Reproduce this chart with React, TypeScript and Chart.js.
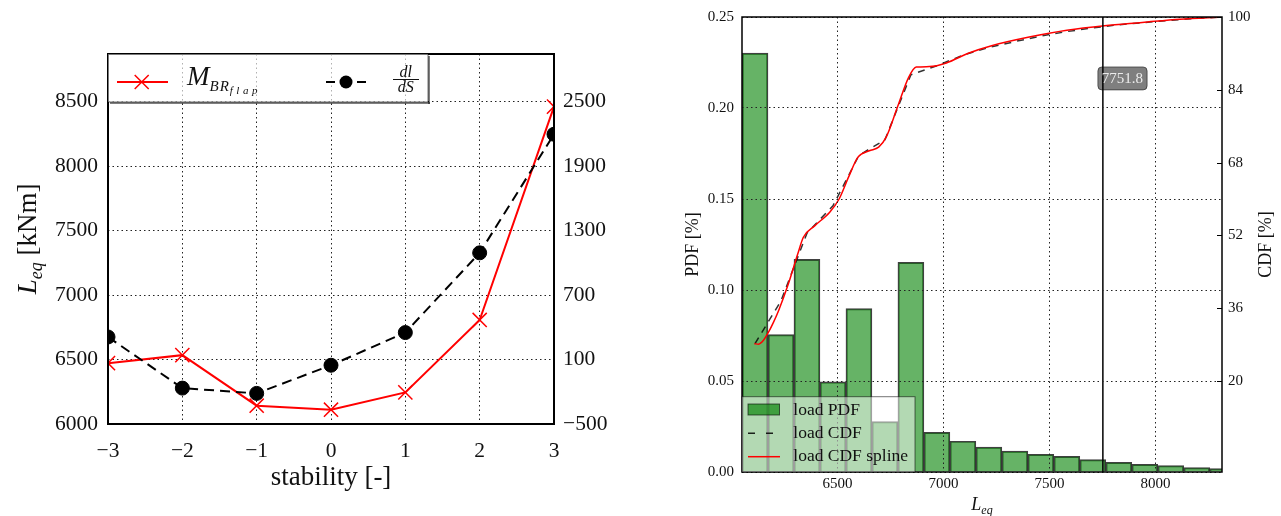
import React, { useEffect, useRef } from 'react';
import { Chart, registerables } from 'chart.js';

Chart.register(...registerables);

// ---------- Left panel data ----------
const STABILITY = [-3, -2, -1, 0, 1, 2, 3];
const M_BR_FLAP = [6472, 6534, 6142, 6111, 6245, 6807, 8462];
const DL_DS = [310, -166, -215, 47, 351, 1093, 2197];
const STAB_TICKS = [-3, -2, -1, 0, 1, 2, 3];
const LEQ_LEFT_TICKS = [6000, 6500, 7000, 7500, 8000, 8500];
const DLDS_TICKS = [-500, 100, 700, 1300, 1900, 2500];

// ---------- Right panel data ----------
const BIN_CENTERS = [6110.9, 6233.4, 6356.0, 6478.6, 6601.2, 6723.7, 6846.3, 6968.9, 7091.4, 7214.0,
  7336.6, 7459.1, 7581.7, 7704.3, 7826.9, 7949.4, 8072.0, 8194.6, 8317.1];
const PDF_VALUES = [0.2302, 0.0755, 0.1168, 0.0495, 0.0898, 0.0277, 0.1152, 0.0218, 0.0169, 0.0137,
  0.0115, 0.0097, 0.0086, 0.0068, 0.0053, 0.0042, 0.0035, 0.0024, 0.0019];
const CDF_VALUES = [28.2, 37.6, 52.5, 58.5, 69.6, 73.0, 87.3, 89.3, 91.6, 93.3,
  94.6, 95.8, 96.8, 97.6, 98.3, 98.8, 99.3, 99.7, 100];
const SPLINE_X = [6107.7, 6128, 6151.8, 6175.3, 6199, 6222.5, 6268, 6312.4, 6339, 6392.3, 6463.3, 6507.7,
  6552.1, 6596.5, 6649.9, 6694.2, 6729.7, 6782.9, 6836.2, 6871.7, 6933.8, 7013.7, 7120.3, 7226.8,
  7404.4, 7582, 7759.5, 7937.1, 8114.7, 8313.5];
const SPLINE_Y = [28.2, 28.1, 29.0, 30.8, 33.0, 35.5, 41.3, 47.9, 51.6, 54.1, 57.1, 60.0,
  64.8, 69.2, 70.6, 71.4, 73.6, 80.2, 86.8, 89.0, 89.1, 89.9, 92.1, 93.7,
  95.6, 97.1, 98.1, 98.8, 99.5, 100];
const MARKER_VALUE = 7751.8;
const MARKER_LABEL_Y = 86.5;
const LEQ_TICKS = [6500, 7000, 7500, 8000];
const PDF_TICKS = [0, 0.05, 0.1, 0.15, 0.2, 0.25];
const CDF_TICKS = [20, 36, 52, 68, 84, 100];

const SERIF = '"Liberation Serif", "Times New Roman", serif';
const GRID_COLOR = '#222';
const GRID_DASH = [1.5, 3];

type Part = { t: string; size: number; italic?: boolean; dy?: number; ls?: number };

function fontStr(p: Part) {
  return `${p.italic ? 'italic ' : ''}${p.size}px ${SERIF}`;
}
function measureParts(ctx: any, parts: Part[]) {
  let w = 0;
  for (const p of parts) {
    ctx.font = fontStr(p);
    ctx.letterSpacing = `${p.ls || 0}px`;
    w += ctx.measureText(p.t).width;
  }
  ctx.letterSpacing = '0px';
  return w;
}
function drawParts(ctx: any, parts: Part[], x: number, y: number, align: 'left' | 'center') {
  const w = measureParts(ctx, parts);
  let cx = align === 'center' ? x - w / 2 : x;
  ctx.textAlign = 'left';
  ctx.textBaseline = 'alphabetic';
  for (const p of parts) {
    ctx.font = fontStr(p);
    ctx.letterSpacing = `${p.ls || 0}px`;
    ctx.fillText(p.t, cx, y + (p.dy || 0));
    cx += ctx.measureText(p.t).width;
  }
  ctx.letterSpacing = '0px';
}
function drawRotated(ctx: any, parts: Part[], x: number, y: number) {
  ctx.save();
  ctx.translate(x, y);
  ctx.rotate(-Math.PI / 2);
  drawParts(ctx, parts, 0, 0, 'center');
  ctx.restore();
}

const fmtMinus = (v: number) => (v < 0 ? '\u2212' + Math.abs(v) : String(v));
const setTicks = (vals: number[]) => (s: any) => {
  s.ticks = vals.map((v) => ({ value: v }));
};

const leftDecor = {
  id: 'leftDecor',
  afterDatasetsDraw(chart: any) {
    const { ctx, chartArea: a } = chart;
    ctx.save();
    ctx.strokeStyle = '#000';
    ctx.lineWidth = 2;
    ctx.strokeRect(a.left, a.top, a.right - a.left, a.bottom - a.top);
    ctx.restore();
  },
  afterDraw(chart: any) {
    const { ctx, chartArea: a } = chart;
    ctx.save();
    // legend box
    const lx = a.left, ly = a.top, lw = 428 - a.left, lh = 102 - a.top;
    ctx.fillStyle = 'rgba(255,255,255,0.65)';
    ctx.fillRect(lx, ly, lw, lh);
    ctx.fillStyle = 'rgba(0,0,0,0.5)';
    ctx.fillRect(lx + 2, ly + lh, lw, 2);
    ctx.fillRect(lx + lw, ly + 2, 2, lh);
    ctx.strokeStyle = 'rgba(0,0,0,0.45)';
    ctx.lineWidth = 1.2;
    ctx.strokeRect(lx, ly, lw, lh);
    // red handle
    ctx.strokeStyle = '#ff0000';
    ctx.lineWidth = 2;
    ctx.beginPath();
    ctx.moveTo(117, 82);
    ctx.lineTo(168, 82);
    ctx.stroke();
    ctx.lineWidth = 1.5;
    ctx.beginPath();
    ctx.moveTo(141.7 - 7, 82 - 7);
    ctx.lineTo(141.7 + 7, 82 + 7);
    ctx.moveTo(141.7 - 7, 82 + 7);
    ctx.lineTo(141.7 + 7, 82 - 7);
    ctx.stroke();
    ctx.fillStyle = '#111';
    drawParts(ctx, [
      { t: 'M', size: 27, italic: true },
      { t: 'BR', size: 15, italic: true, dy: 6, ls: 1 },
      { t: 'flap', size: 11, italic: true, dy: 9, ls: 3.5 },
    ], 187, 85, 'left');
    // black handle (dash - marker - dash)
    ctx.strokeStyle = '#000';
    ctx.lineWidth = 2.2;
    ctx.beginPath();
    ctx.moveTo(326, 82);
    ctx.lineTo(335, 82);
    ctx.moveTo(357, 82);
    ctx.lineTo(366, 82);
    ctx.stroke();
    ctx.fillStyle = '#000';
    ctx.beginPath();
    ctx.arc(346, 82, 6.5, 0, Math.PI * 2);
    ctx.fill();
    ctx.fillStyle = '#111';
    drawParts(ctx, [{ t: 'dl', size: 16, italic: true }], 405.8, 76.5, 'center');
    drawParts(ctx, [{ t: 'dS', size: 16, italic: true }], 405.8, 92, 'center');
    ctx.strokeStyle = '#111';
    ctx.lineWidth = 1;
    ctx.beginPath();
    ctx.moveTo(393, 79.5);
    ctx.lineTo(419, 79.5);
    ctx.stroke();
    // axis titles
    ctx.fillStyle = '#111';
    drawRotated(ctx, [
      { t: 'L', size: 27, italic: true },
      { t: 'eq', size: 18, italic: true, dy: 6 },
      { t: ' [kNm]', size: 27 },
    ], 36, (a.top + a.bottom) / 2);
    drawParts(ctx, [{ t: 'stability [-]', size: 27 }], (a.left + a.right) / 2, 485, 'center');
    ctx.restore();
  },
};

const rightDecor = {
  id: 'rightDecor',
  afterDraw(chart: any) {
    const { ctx, chartArea: a, scales } = chart;
    ctx.save();
    // frame
    ctx.strokeStyle = '#000';
    ctx.lineWidth = 1.5;
    ctx.strokeRect(a.left, a.top, a.right - a.left, a.bottom - a.top);
    // right axis inward ticks
    ctx.lineWidth = 1;
    for (const v of CDF_TICKS) {
      const y = Math.round(scales.y1.getPixelForValue(v)) + 0.5;
      ctx.beginPath();
      ctx.moveTo(a.right - 5, y);
      ctx.lineTo(a.right, y);
      ctx.stroke();
    }
    // marker annotation
    const xp = scales.x.getPixelForValue(MARKER_VALUE);
    const yc = scales.y1.getPixelForValue(MARKER_LABEL_Y);
    ctx.font = `15px ${SERIF}`;
    const tw = ctx.measureText('7751.8').width;
    const bw = tw + 8, bh = 23;
    const bx = xp - 5, by = yc - bh / 2;
    ctx.beginPath();
    (ctx as any).roundRect(bx, by, bw, bh, 4);
    ctx.fillStyle = 'rgba(0,0,0,0.5)';
    ctx.fill();
    ctx.strokeStyle = 'rgba(0,0,0,0.5)';
    ctx.lineWidth = 1;
    ctx.stroke();
    ctx.fillStyle = 'rgba(255,255,255,0.85)';
    ctx.textAlign = 'center';
    ctx.textBaseline = 'middle';
    ctx.fillText('7751.8', bx + bw / 2, yc + 1);
    // legend
    const lx = a.left, ly = 396.7, lr = 265;
    ctx.fillStyle = 'rgba(255,255,255,0.5)';
    ctx.fillRect(lx, ly, lr - lx, a.bottom - ly);
    ctx.strokeStyle = 'rgba(0,0,0,0.55)';
    ctx.lineWidth = 1;
    ctx.strokeRect(lx, ly, lr - lx, a.bottom - ly);
    ctx.fillStyle = 'rgba(0,128,0,0.65)';
    ctx.fillRect(98, 404, 31.5, 11);
    ctx.strokeStyle = 'rgba(0,0,0,0.6)';
    ctx.strokeRect(98, 404, 31.5, 11);
    ctx.strokeStyle = 'rgba(0,0,0,0.85)';
    ctx.lineWidth = 1.5;
    ctx.setLineDash([7, 11]);
    ctx.beginPath();
    ctx.moveTo(98, 433.3);
    ctx.lineTo(130, 433.3);
    ctx.stroke();
    ctx.setLineDash([]);
    ctx.strokeStyle = '#ff0000';
    ctx.beginPath();
    ctx.moveTo(98, 456.7);
    ctx.lineTo(130, 456.7);
    ctx.stroke();
    ctx.fillStyle = '#111';
    ctx.font = `17.5px ${SERIF}`;
    ctx.textAlign = 'left';
    ctx.textBaseline = 'middle';
    ctx.fillText('load PDF', 143.3, 410);
    ctx.fillText('load CDF', 143.3, 433.3);
    ctx.fillText('load CDF spline', 143.3, 456.7);
    // axis titles
    drawRotated(ctx, [{ t: 'PDF [%]', size: 18 }], 48, (a.top + a.bottom) / 2);
    drawRotated(ctx, [{ t: 'CDF [%]', size: 18 }], 621, (a.top + a.bottom) / 2);
    drawParts(ctx, [
      { t: 'L', size: 18, italic: true },
      { t: 'eq', size: 12, italic: true, dy: 4 },
    ], (a.left + a.right) / 2, 510, 'center');
    ctx.restore();
  },
};

function leftConfig(): any {
  const font = { family: SERIF, size: 21.5 };
  return {
    type: 'line',
    data: {
      datasets: [
        {
          label: 'dl/dS',
          data: STABILITY.map((x, i) => ({ x, y: DL_DS[i] })),
          yAxisID: 'y2',
          borderColor: '#000',
          borderWidth: 2,
          borderDash: [10, 6],
          pointStyle: 'circle',
          pointRadius: 7,
          pointBackgroundColor: '#000',
          pointBorderColor: '#000',
          pointBorderWidth: 1,
          tension: 0,
          order: 0,
        },
        {
          label: 'M_BR_flap',
          data: STABILITY.map((x, i) => ({ x, y: M_BR_FLAP[i] })),
          yAxisID: 'y',
          borderColor: '#ff0000',
          borderWidth: 2,
          pointStyle: 'crossRot',
          pointRadius: 10,
          pointBorderColor: '#ff0000',
          pointBorderWidth: 1.5,
          tension: 0,
          order: 1,
        },
      ],
    },
    options: {
      responsive: false,
      animation: false,
      devicePixelRatio: 1,
      layout: { padding: { top: 54, left: 0, right: 0, bottom: 0 } },
      plugins: { legend: { display: false }, tooltip: { enabled: false }, title: { display: false } },
      scales: {
        x: {
          type: 'linear', min: -3, max: 3,
          afterBuildTicks: setTicks(STAB_TICKS),
          afterFit: (s: any) => { s.height = 92; },
          grid: { color: GRID_COLOR, lineWidth: 1, drawTicks: false },
          border: { display: false, dash: GRID_DASH },
          ticks: { font, color: '#111', padding: 14, autoSkip: false, maxRotation: 0, callback: (v: number) => fmtMinus(v) },
        },
        y: {
          type: 'linear', position: 'left', min: 6000, max: 8870,
          afterBuildTicks: setTicks(LEQ_LEFT_TICKS),
          afterFit: (s: any) => { s.width = 108; },
          grid: { color: GRID_COLOR, lineWidth: 1, drawTicks: false },
          border: { display: false, dash: GRID_DASH },
          ticks: { font, color: '#111', padding: 10, autoSkip: false, callback: (v: number) => String(v) },
        },
        y2: {
          type: 'linear', position: 'right', min: -500, max: 2944,
          afterBuildTicks: setTicks(DLDS_TICKS),
          afterFit: (s: any) => { s.width = 91; },
          grid: { drawOnChartArea: false, drawTicks: false },
          border: { display: false },
          ticks: { font, color: '#111', padding: 9, autoSkip: false, callback: (v: number) => fmtMinus(v) },
        },
      },
    },
    plugins: [leftDecor],
  };
}

function rightConfig(): any {
  const font = { family: SERIF, size: 15 };
  return {
    type: 'line',
    data: {
      datasets: [
        {
          type: 'bar',
          label: 'load PDF',
          data: BIN_CENTERS.map((x, i) => ({ x, y: PDF_VALUES[i] })),
          yAxisID: 'y',
          backgroundColor: 'rgba(0,128,0,0.6)',
          borderColor: 'rgba(0,0,0,0.75)',
          borderWidth: 1.3,
          barPercentage: 1,
          categoryPercentage: 1,
          order: 3,
        },
        {
          label: 'load CDF',
          data: BIN_CENTERS.map((x, i) => ({ x, y: CDF_VALUES[i] })),
          yAxisID: 'y1',
          borderColor: 'rgba(0,0,0,0.8)',
          borderWidth: 1.5,
          borderDash: [7, 6],
          pointRadius: 0,
          tension: 0,
          order: 2,
        },
        {
          label: 'load CDF spline',
          data: SPLINE_X.map((x, i) => ({ x, y: SPLINE_Y[i] })),
          yAxisID: 'y1',
          borderColor: '#ff0000',
          borderWidth: 1.5,
          pointRadius: 0,
          cubicInterpolationMode: 'monotone',
          order: 1,
        },
        {
          label: 'marker',
          data: [{ x: MARKER_VALUE, y: 0 }, { x: MARKER_VALUE, y: 0.25 }],
          yAxisID: 'y',
          borderColor: '#000',
          borderWidth: 1.5,
          pointRadius: 0,
          order: 0,
        },
      ],
    },
    options: {
      responsive: false,
      animation: false,
      devicePixelRatio: 1,
      layout: { padding: { top: 17, left: 0, right: 0, bottom: 0 } },
      plugins: { legend: { display: false }, tooltip: { enabled: false }, title: { display: false } },
      scales: {
        x: {
          type: 'linear', min: 6049.6, max: 8313.7, offset: false,
          afterBuildTicks: setTicks(LEQ_TICKS),
          afterFit: (s: any) => { s.height = 44; },
          grid: { color: GRID_COLOR, lineWidth: 1, drawTicks: false, offset: false, z: 1 },
          border: { display: false, dash: GRID_DASH },
          ticks: { font, color: '#111', padding: 3, autoSkip: false, maxRotation: 0, callback: (v: number) => String(v) },
        },
        y: {
          type: 'linear', position: 'left', min: 0, max: 0.25,
          afterBuildTicks: setTicks(PDF_TICKS),
          afterFit: (s: any) => { s.width = 92; },
          grid: { color: GRID_COLOR, lineWidth: 1, drawTicks: false, z: 1 },
          border: { display: false, dash: GRID_DASH },
          ticks: { font, color: '#111', padding: 8, autoSkip: false, callback: (v: number) => v.toFixed(2) },
        },
        y1: {
          type: 'linear', position: 'right', min: 0, max: 100,
          afterBuildTicks: setTicks(CDF_TICKS),
          afterFit: (s: any) => { s.width = 59; },
          grid: { drawOnChartArea: false, drawTicks: false },
          border: { display: false },
          ticks: { font, color: '#111', padding: 6, autoSkip: false, callback: (v: number) => String(v) },
        },
      },
    },
    plugins: [rightDecor],
  };
}

export default function App() {
  const leftRef = useRef<HTMLCanvasElement>(null);
  const rightRef = useRef<HTMLCanvasElement>(null);
  useEffect(() => {
    const c1 = new Chart(leftRef.current as HTMLCanvasElement, leftConfig());
    const c2 = new Chart(rightRef.current as HTMLCanvasElement, rightConfig());
    return () => {
      c1.destroy();
      c2.destroy();
    };
  }, []);
  return (
    <div style={{ position: 'fixed', left: 0, top: 0, width: 1281, height: 516, background: '#fff', overflow: 'hidden' }}>
      <canvas ref={leftRef} width={645} height={516} style={{ position: 'absolute', left: 0, top: 0 }} />
      <canvas ref={rightRef} width={631} height={516} style={{ position: 'absolute', left: 650, top: 0 }} />
    </div>
  );
}
